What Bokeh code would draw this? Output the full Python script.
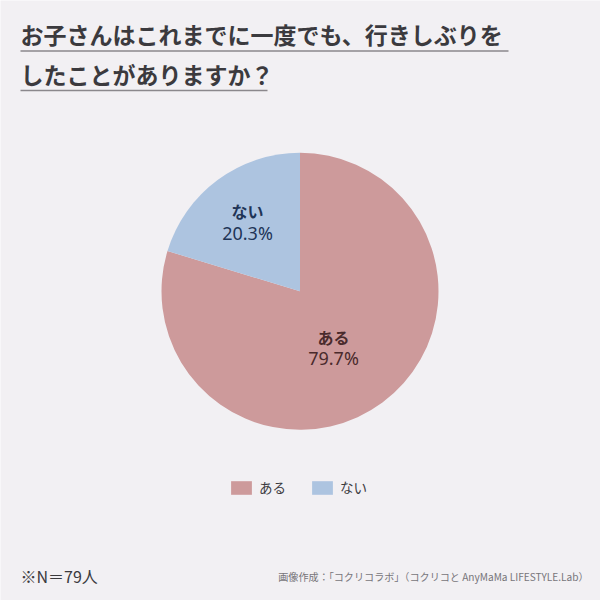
from math import pi

from bokeh.core.properties import value
from bokeh.embed import file_html
from bokeh.models import ColumnDataSource, Legend, LegendItem
from bokeh.plotting import figure
from bokeh.resources import INLINE

categories = ["ある", "ない"]
percents = [79.7, 20.3]
colors = ["#cd9a9b", "#adc4e0"]
label_colors = ["#4a2a2c", "#1f3557"]
title_lines = ["お子さんはこれまでに一度でも、行きしぶりを", "したことがありますか？"]
note = "※N＝79人"
credit = "画像作成：「コクリコラボ」（コクリコと AnyMaMa LIFESTYLE.Lab）"

BG = "#f2f0f3"
INK = "#3b3a3e"
FONT = value("Noto Sans CJK JP")


def py(y):
    # the reference is measured in window pixels from the top
    return 600 - y


p = figure(width=600, height=600, x_range=(0, 600), y_range=(0, 600),
           output_backend="svg", toolbar_location=None,
           x_axis_type=None, y_axis_type=None, min_border=0)
p.background_fill_color = BG
p.border_fill_color = BG
p.outline_line_color = None
p.grid.visible = False

# Pie, clockwise from 12 o'clock
angles = [v / sum(percents) * 2 * pi for v in percents]
starts = [pi / 2 - sum(angles[:i]) for i in range(len(angles))]
ends = [s - a for s, a in zip(starts, angles)]
source = ColumnDataSource(data=dict(category=categories, start=starts, end=ends, color=colors))
pie = p.wedge(x=299.5, y=py(290.8), radius=138.5, start_angle="start", end_angle="end",
              direction="clock", fill_color="color", line_color=None, source=source)

# Slice labels
label_x = [333, 247]
name_y = [336.5, 210.5]
pct_y = [357.5, 232]
for i, name in enumerate(categories):
    p.text(x=[label_x[i]], y=[py(name_y[i])], text=[name], text_font=FONT, text_font_size="16px",
           text_font_style="bold", text_color=label_colors[i], text_align="center",
           text_baseline="middle")
    p.text(x=[label_x[i]], y=[py(pct_y[i])], text=[f"{percents[i]}%"], text_font=value("Noto Sans"),
           text_font_size="18px", text_color=label_colors[i], text_align="center",
           text_baseline="middle")

# Title with an underline per line
title_y = [33.5, 73.5]
rule_y = [50.5, 90]
rule_end = [508, 267]
for line, ty, ry, xe in zip(title_lines, title_y, rule_y, rule_end):
    p.text(x=[20], y=[py(ty)], text=[line], text_font=FONT, text_font_size="23px",
           text_font_style="bold", text_color=INK, text_align="left", text_baseline="middle")
    p.segment(x0=[20], y0=[py(ry)], x1=[xe], y1=[py(ry)], line_color="#8b888c", line_width=1.6)

# Footer
p.text(x=[20], y=[py(575.5)], text=[note], text_font=FONT, text_font_size="16px",
       text_color=INK, text_align="left", text_baseline="middle")
p.text(x=[588], y=[py(576)], text=[credit], text_font=FONT, text_font_size="10.1px",
       text_color="#77757a", text_align="right", text_baseline="middle")

# Legend
items = [LegendItem(label=name, renderers=[pie], index=i) for i, name in enumerate(categories)]
legend = Legend(items=items, orientation="horizontal", location=(228, 103),
                glyph_width=26, glyph_height=17, spacing=23, label_standoff=5,
                padding=0, margin=0, background_fill_alpha=0, border_line_color=None,
                label_text_font="Noto Sans CJK JP", label_text_font_size="13.5px",
                label_text_color=INK)
p.add_layout(legend, "center")

open("out.html", "w").write(file_html(p, INLINE))
